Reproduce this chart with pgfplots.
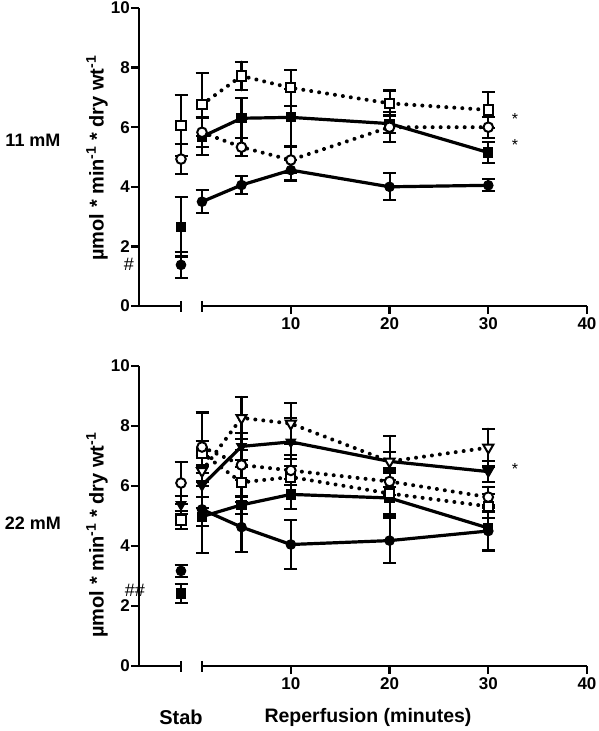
\documentclass[border=0pt]{standalone}
\usepackage{fontspec}
\setmainfont{Liberation Sans}
\usepackage{pgfplots}
\pgfplotsset{compat=1.18}
\pgfplotsset{
 base/.style={scale only axis, clip=false, ymin=0, ymax=10, height=298pt,
   axis line style={line width=2.8pt},
   tick style={line width=2.4pt, black}, major tick length=8pt, tick align=outside,
   tick label style={font=\bfseries\fontsize{17}{17}\selectfont},
   xticklabel style={font=\bfseries\fontsize{17}{17}\selectfont, inner sep=3.5pt},
   yticklabel style={font=\bfseries\fontsize{17}{17}\selectfont, inner sep=1pt},
   /pgf/number format/assume math mode=true},
 stab/.style={base, width=43pt, xmin=0, xmax=1, axis x line*=bottom, axis y line*=left,
   xtick=\empty, ytick={0,2,4,6,8,10}},
 rep/.style={base, width=384pt, xmin=1, xmax=40, axis x line*=bottom, axis y line=none,
   xtick={10,20,30,40}, ytick=\empty},
 eb/.style={/pgfplots/error bars/y dir=both, /pgfplots/error bars/y explicit,
   /pgfplots/error bars/error bar style={line width=2.1pt, solid, black},
   /pgfplots/error bars/error mark options={rotate=90, mark size=6.5pt, line width=2.1pt, solid, black}},
 sl/.style={black, solid, line width=3.2pt, eb},
 dl/.style={black, line width=4pt, dash pattern=on 0.01pt off 8pt, line cap=round, eb},
 fc/.style={sl, mark=*, mark size=4.8pt, mark options={solid, fill=black, line width=1pt}},
 fs/.style={sl, mark=square*, mark size=4.6pt, mark options={solid, fill=black, line width=1pt}},
 ft/.style={sl, mark=triangle*, mark size=5.8pt, mark options={solid, fill=black, rotate=180, line width=1pt}},
 oc/.style={dl, mark=*, mark size=4.8pt, mark options={solid, fill=white, line width=2pt, line cap=butt}},
 os/.style={dl, mark=square*, mark size=4.6pt, mark options={solid, fill=white, line width=2pt, line cap=butt}},
 ot/.style={dl, mark=triangle*, mark size=5.8pt, mark options={solid, fill=white, rotate=180, line width=2pt, line cap=butt}},
}
\begin{document}
\begin{tikzpicture}[x=1pt,y=1pt]
\useasboundingbox (0,0) rectangle (598,-731);
% ---------------- 11 mM ----------------
\begin{axis}[stab, at={(139pt,-306pt)}, anchor=south west, width=42pt]
\addplot[fc] coordinates {(1,1.38) +- (0,0.43)};
\addplot[fs] coordinates {(1,2.66) +- (0,1.0)};
\addplot[oc] coordinates {(1,4.93) +- (0,0.5)};
\addplot[os] coordinates {(1,6.05) +- (0,1.02)};
\draw[line width=2.4pt] (axis cs:1,0.17) -- (axis cs:1,-0.2);
\end{axis}
\begin{axis}[rep, at={(202pt,-306pt)}, anchor=south west, width=385pt]
\addplot[fc] coordinates {(1,3.5) +- (0,0.38) (5,4.06) +- (0,0.3) (10,4.56) +- (0,0.35) (20,4.0) +- (0,0.45) (30,4.05) +- (0,0.2)};
\addplot[fs] coordinates {(1,5.68) +- (0,0.62) (5,6.3) +- (0,0.67) (10,6.33) +- (0,0.95) (20,6.12) +- (0,0.3) (30,5.15) +- (0,0.35)};
\addplot[oc] coordinates {(1,5.83) +- (0,0.5) (5,5.33) +- (0,0.3) (10,4.9) +- (0,0.45) (20,6.0) +- (0,0.5) (30,6.0) +- (0,0.35)};
\addplot[os] coordinates {(1,6.76) +- (0,1.05) (5,7.72) +- (0,0.48) (10,7.32) +- (0,0.6) (20,6.8) +- (0,0.43) (30,6.58) +- (0,0.6)};
\draw[line width=2.4pt] (axis cs:1,0.17) -- (axis cs:1,-0.2);
\end{axis}
% ---------------- 22 mM ----------------
\begin{axis}[stab, at={(139pt,-666pt)}, anchor=south west, height=300pt, width=42pt]
\addplot[fs] coordinates {(1,2.42) +- (0,0.32)};
\addplot[fc] coordinates {(1,3.17) +- (0,0.2)};
\addplot[os] coordinates {(1,4.87) +- (0,0.3)};
\addplot[ft] coordinates {(1,5.38) +- (0,0.3)};
\addplot[oc] coordinates {(1,6.1) +- (0,0.7)};
\draw[line width=2.4pt] (axis cs:1,0.17) -- (axis cs:1,-0.2);
\end{axis}
\begin{axis}[rep, at={(202pt,-666pt)}, anchor=south west, height=300pt, width=385pt]
\addplot[fc] coordinates {(1,5.22) +- (0,1.45) (5,4.63) +- (0,0.83) (10,4.05) +- (0,0.83) (20,4.18) +- (0,0.75) (30,4.5) +- (0,0.65)};
\addplot[fs] coordinates {(1,4.98) +- (0,0.3) (5,5.37) +- (0,0.3) (10,5.72) +- (0,0.5) (20,5.6) +- (0,0.6) (30,4.6) +- (0,0.75)};
\addplot[ft] coordinates {(1,6.02) +- (0,0.4) (5,7.32) +- (0,0.45) (10,7.47) +- (0,0.8) (20,6.82) +- (0,0.3) (30,6.48) +- (0,0.35)};
\addplot[os] coordinates {(1,7.1) +- (0,0.4) (5,6.12) +- (0,0.5) (10,6.3) +- (0,0.6) (20,5.75) +- (0,0.7) (30,5.32) +- (0,0.4)};
\addplot[oc] coordinates {(1,7.3) +- (0,1.15) (5,6.7) +- (0,0.5) (10,6.52) +- (0,0.5) (20,6.15) +- (0,0.45) (30,5.63) +- (0,0.35)};
\addplot[ot] coordinates {(1,6.5) +- (0,0.5) (5,8.27) +- (0,0.7) (10,8.08) +- (0,0.68) (20,6.82) +- (0,0.85) (30,7.28) +- (0,0.63)};
\draw[line width=2.4pt] (axis cs:1,0.17) -- (axis cs:1,-0.2);
\end{axis}
% ---------------- labels ----------------
\node[font=\bfseries\fontsize{18}{18}\selectfont] at (33,-140) {11 mM};
\node[font=\bfseries\fontsize{18}{18}\selectfont] at (33,-523) {22 mM};
\node[rotate=90, font=\bfseries\fontsize{20}{20}\selectfont] at (97,-158) {µmol * min\textsuperscript{-1} * dry wt\textsuperscript{-1}};
\node[rotate=90, font=\bfseries\fontsize{20}{20}\selectfont] at (97,-535) {µmol * min\textsuperscript{-1} * dry wt\textsuperscript{-1}};
\node[font=\fontsize{18}{18}\selectfont] at (129,-264) {\#};
\node[font=\fontsize{18}{18}\selectfont] at (135,-590) {\#\#};
\node[font=\fontsize{16}{16}\selectfont] at (515,-119) {*};
\node[font=\fontsize{16}{16}\selectfont] at (515,-145) {*};
\node[font=\fontsize{16}{16}\selectfont] at (515,-469) {*};
\node[font=\bfseries\fontsize{20}{20}\selectfont] at (181,-717) {Stab};
\node[font=\bfseries\fontsize{19.5}{19.5}\selectfont] at (368,-717) {Reperfusion (minutes)};
\end{tikzpicture}
\end{document}
